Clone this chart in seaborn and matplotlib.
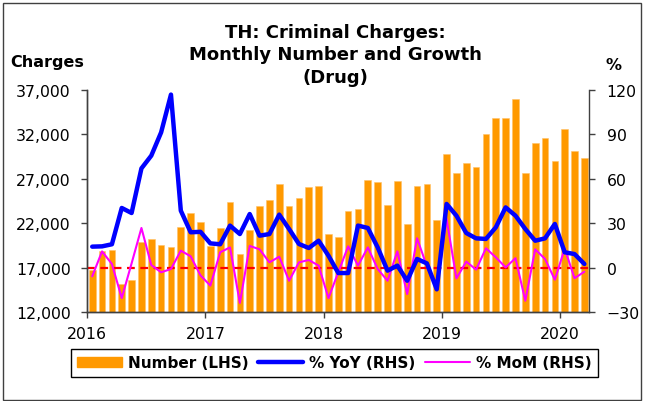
import numpy as np
import pandas as pd
import matplotlib
matplotlib.use("Agg")
import matplotlib.pyplot as plt
import seaborn as sns
from matplotlib.patches import Patch, Rectangle
from matplotlib.lines import Line2D

# monthly drug charges, Jan 2016 - Mar 2020
charges = [16800, 18900, 19000, 15200, 15600, 19900, 20250, 19600, 19300, 21550, 23150, 22100,
           19400, 21450, 24350, 18550, 21300, 23900, 24650, 26450, 24000, 24850, 26050, 26150,
           20800, 20500, 23350, 23650, 26900, 26600, 24050, 26750, 21900, 26250, 26400, 22400,
           29800, 27650, 28750, 28300, 32000, 33850, 33850, 36000, 27650, 31050, 31600, 29000,
           32600, 30100, 29300]
yoy = [14.3, 14.5, 15.9, 40.4, 37.0, 67.1, 75.7, 91.4, 116.9, 38.6, 24.0, 24.3,
       16.5, 15.9, 28.5, 22.8, 36.3, 21.7, 22.8, 35.9, 26.2, 16.1, 13.4, 18.3,
       8.2, -3.5, -3.5, 28.5, 26.9, 13.8, -1.9, 1.5, -8.7, 6.0, 3.0, -14.5,
       43.1, 35.2, 23.5, 19.9, 19.5, 27.3, 40.8, 35.2, 26.2, 18.3, 19.9, 29.6,
       10.5, 9.3, 2.6]
mom = [-5.7, 11.1, 2.6, -20.4, 3.0, 26.9, 1.9, -3.0, -0.8, 11.6, 7.8, -5.1,
       -12.0, 10.5, 13.8, -23.7, 14.8, 12.5, 3.7, 7.5, -8.7, 3.7, 5.3, 1.5,
       -20.4, -3.0, 14.5, 1.5, 13.8, -0.8, -8.7, 11.1, -17.7, 20.0, 1.0, -14.3,
       33.0, -7.1, 4.2, -1.2, 13.2, 7.1, 0.3, 6.5, -22.2, 12.5, 6.0, -8.0,
       13.0, -7.0, -2.6]
years = ["2016", "2017", "2018", "2019", "2020"]

df = pd.DataFrame({"charges": charges, "yoy": yoy, "mom": mom})
df["x"] = np.arange(len(df)) + 0.5

sns.set_style("ticks")
plt.rcParams["font.family"] = ["DejaVu Sans"]
plt.rcParams["text.color"] = "black"

fig = plt.figure(figsize=(6.45, 4.02), dpi=100)
ax = fig.add_axes([87.3 / 645, 1 - 313.3 / 402, 502 / 645, 222.3 / 402])

orange = "#FF9900"
sns.barplot(data=df, x="x", y="charges", native_scale=True, color=orange,
            width=0.68, saturation=1, edgecolor="#FFC266", linewidth=0.4, ax=ax)
ax.set_xlim(0, len(df))
ax.set_ylim(12000, 37000)
ax.set_yticks(np.arange(12000, 37001, 5000))
ax.set_yticklabels([f"{v:,}" for v in range(12000, 37001, 5000)])
ax.set_xticks(np.arange(0, len(df), 12))
ax.set_xticklabels(years)
ax.set_xlabel("")
ax.set_ylabel("")

ax2 = ax.twinx()
ax2.axhline(0, color="#FF0000", lw=1.6, ls=(0, (3.5, 2.5)), zorder=1)
sns.lineplot(data=df, x="x", y="yoy", color="#0000FF", lw=3.2, ax=ax2, zorder=3)
sns.lineplot(data=df, x="x", y="mom", color="#FF00FF", lw=1.5, ax=ax2, zorder=2)
ax2.set_ylim(-30, 120)
ax2.set_yticks(np.arange(-30, 121, 30))
ax2.set_xlim(0, len(df))
ax2.set_xlabel("")
ax2.set_ylabel("")

for a in (ax, ax2):
    a.spines["top"].set_visible(False)
    for s in a.spines.values():
        s.set_color("#404040")
        s.set_linewidth(1.0)
    a.tick_params(colors="#404040", labelcolor="black", labelsize=11.3, length=4, width=1.0)
ax.spines["right"].set_visible(False)
ax.tick_params(axis="y", pad=8)
ax.tick_params(axis="x", pad=6)
ax2.tick_params(axis="y", pad=8.5)

title_lines = ["TH: Criminal Charges:", "Monthly Number and Growth", "(Drug)"]
for line, base in zip(title_lines, [37.5, 60, 83]):
    fig.text(335 / 645, 1 - base / 402, line, ha="center", va="baseline",
             fontsize=13, fontweight="bold")
fig.text(47 / 645, 1 - 67 / 402, "Charges", ha="center", va="baseline",
         fontsize=11.5, fontweight="bold")
fig.text(613 / 645, 1 - 70 / 402, "%", ha="center", va="baseline",
         fontsize=11.5, fontweight="bold")

handles = [Patch(facecolor=orange, edgecolor=orange),
           Line2D([], [], color="#0000FF", lw=3.2),
           Line2D([], [], color="#FF00FF", lw=1.5)]
leg = fig.legend(handles, ["Number (LHS)", "% YoY (RHS)", "% MoM (RHS)"],
                 loc="center", bbox_to_anchor=(334.5 / 645, 1 - 364 / 402), ncol=3,
                 frameon=True, fancybox=False, edgecolor="black", framealpha=1,
                 prop={"weight": "bold", "size": 11}, handlelength=2.95, handleheight=0.55,
                 handletextpad=0.4, columnspacing=0.6, borderpad=0.4)
leg.get_frame().set_linewidth(1.0)
for t in leg.get_texts():
    t.set_color("black")

fig.patches.append(Rectangle((3 / 645, 1 / 402), 638 / 645, 397 / 402, transform=fig.transFigure,
                             fill=False, edgecolor="#404040", lw=1.0))

fig.savefig("out.png", dpi=100)
